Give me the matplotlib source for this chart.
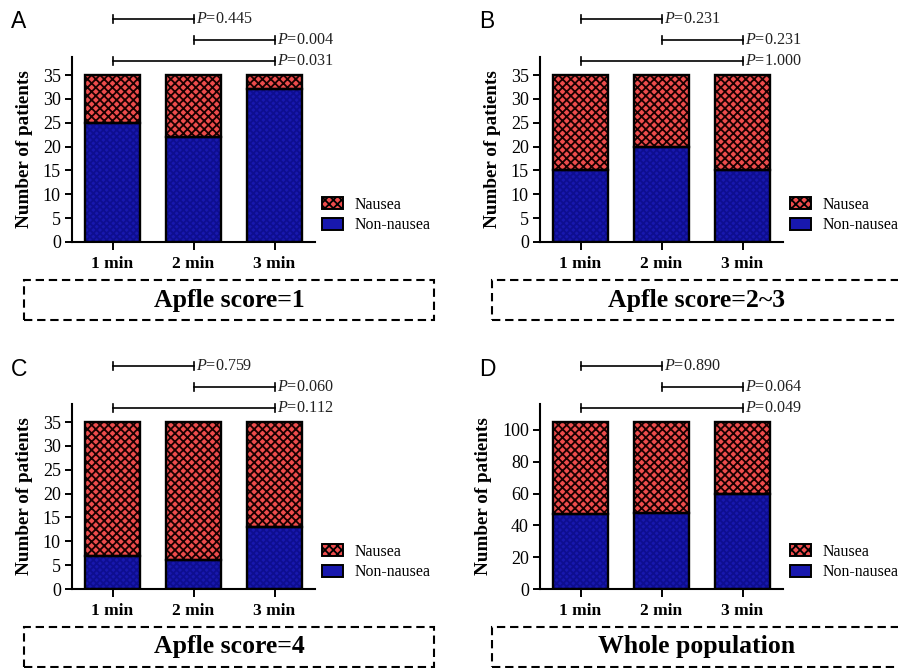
import matplotlib
matplotlib.use("Agg")
import matplotlib.pyplot as plt
from matplotlib.patches import Patch, Rectangle
import matplotlib.transforms as mtransforms

plt.rcParams['font.family'] = ['Liberation Serif', 'DejaVu Serif']
plt.rcParams['mathtext.fontset'] = 'custom'
plt.rcParams['mathtext.it'] = 'Liberation Serif:italic'
plt.rcParams['mathtext.rm'] = 'Liberation Serif'
plt.rcParams['hatch.linewidth'] = 1.3

# data
times = ['1 min', '2 min', '3 min']
panel_letters = ['A', 'B', 'C', 'D']
panel_titles = ['Apfle score=1', 'Apfle score=2~3', 'Apfle score=4', 'Whole population']
totals = [35, 35, 35, 105]
non_nausea_A = [25, 22, 32]
non_nausea_B = [15, 20, 15]
non_nausea_C = [7, 6, 13]
non_nausea_D = [47, 48, 60]
p_A = ['0.445', '0.004', '0.031']
p_B = ['0.231', '0.231', '1.000']
p_C = ['0.759', '0.060', '0.112']
p_D = ['0.890', '0.064', '0.049']
yticks_small = [0, 5, 10, 15, 20, 25, 30, 35]
yticks_big = [0, 20, 40, 60, 80, 100]

non_nausea = [non_nausea_A, non_nausea_B, non_nausea_C, non_nausea_D]
pvals = [p_A, p_B, p_C, p_D]
yticks = [yticks_small, yticks_small, yticks_small, yticks_big]
# pairs compared: 1v2, 2v3, 1v3
pairs = [(0, 1), (1, 2), (0, 2)]

red = '#ee4c4c'
blue = '#1818ae'

W, H = 898, 668
fig = plt.figure(figsize=(W / 100, H / 100), dpi=100)

# axes origins in pixels (left of y axis, y of x axis)
origins = [(72, 242), (540, 242), (72, 589), (540, 589)]
ax_w, ax_h = 243, 185

for k in range(4):
    x0, y0 = origins[k]
    ax = fig.add_axes([x0 / W, (H - y0) / H, ax_w / W, ax_h / H])
    xs = [1, 2, 3]
    nn = non_nausea[k]
    na = [totals[k] - v for v in nn]

    ax.bar(xs, nn, width=0.67, color=blue, edgecolor='#0e0e90', hatch='xxxxx', linewidth=0)
    ax.bar(xs, na, bottom=nn, width=0.67, color=red, edgecolor='#1a0000', hatch='xxxx', linewidth=0)
    ax.bar(xs, nn, width=0.67, fill=False, edgecolor='black', linewidth=1.7)
    ax.bar(xs, na, bottom=nn, width=0.67, fill=False, edgecolor='black', linewidth=1.7)

    ax.set_xlim(0.5, 3.5)
    ax.set_ylim(0, totals[k] * 1.108)
    ax.set_xticks(xs)
    ax.set_xticklabels(times, fontweight='bold', fontsize=12.5)
    ax.set_yticks(yticks[k])
    ax.tick_params(axis='y', labelsize=13, width=1.4, length=5, pad=3)
    ax.tick_params(axis='x', width=1.4, length=6, pad=4)
    ax.spines['top'].set_visible(False)
    ax.spines['right'].set_visible(False)
    ax.spines['left'].set_linewidth(1.5)
    ax.spines['bottom'].set_linewidth(1.5)
    ax.set_ylabel('Number of patients', fontweight='bold', fontsize=13.8, labelpad=7)

    # significance brackets
    trans = mtransforms.blended_transform_factory(ax.transData, ax.transAxes)
    levels = [1.205, 1.09, 0.978]
    for (i, j), lev, p in zip(pairs, levels, pvals[k]):
        xa, xb = xs[i] + 0.01, xs[j] + 0.01
        ax.plot([xa, xb], [lev, lev], color='black', lw=1.2, transform=trans, clip_on=False)
        for xe in (xa, xb):
            ax.plot([xe, xe], [lev - 0.022, lev + 0.022], color='black', lw=1.2,
                    transform=trans, clip_on=False)
        ax.text(xb + 0.02, lev, r'$P$=' + p, fontsize=11.6, color='#222222',
                ha='left', va='center', transform=trans)

    handles = [Patch(facecolor=red, edgecolor='black', hatch='xxxx', linewidth=1.4),
               Patch(facecolor=blue, edgecolor='black', linewidth=1.4)]
    ax.legend(handles, ['Nausea', 'Non-nausea'], loc='center left',
              bbox_to_anchor=(1.029, 0.146), frameon=False, fontsize=11.4,
              handlelength=1.35, handleheight=0.8, handletextpad=0.7,
              labelspacing=0.3, borderpad=0, borderaxespad=0)

    # panel letter
    fig.text((x0 - 61) / W, (H - (y0 - 220)) / H, panel_letters[k],
             family='Liberation Sans', fontsize=16.5, ha='left', va='center')

    # dashed caption box
    bx0, by0 = x0 - 48, y0 + 38
    fig.add_artist(Rectangle((bx0 / W, (H - by0 - 40) / H), 410 / W, 40 / H,
                             transform=fig.transFigure, fill=False, edgecolor='black',
                             linewidth=1.5, linestyle=(0, (4, 2.3))))
    fig.text((bx0 + 205) / W, (H - by0 - 20) / H, panel_titles[k],
             fontsize=18.5, fontweight='bold', ha='center', va='center')

fig.savefig('out.png', dpi=100)
